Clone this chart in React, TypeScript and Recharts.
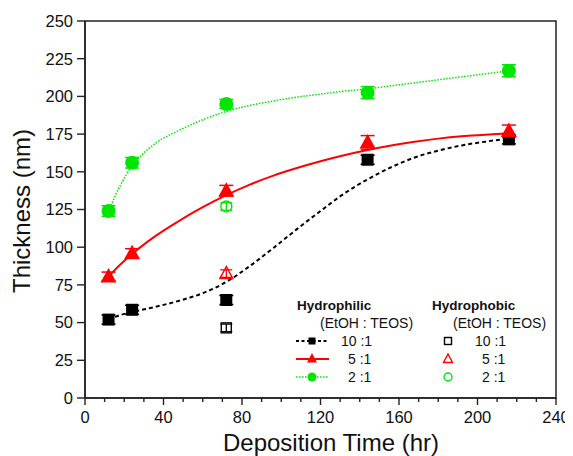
import React from "react";
import {
  ComposedChart,
  Line,
  Scatter,
  XAxis,
  YAxis,
  ErrorBar,
  ReferenceArea,
} from "recharts";

// ---- data ----
const times = [12, 24, 72, 144, 216];
const philicBlack = [52, 58.5, 65, 158, 171.5];
const philicBlackErr = [3, 3, 3, 3, 3];
const philicRed = [80.5, 96, 137.5, 169.5, 177];
const philicRedErr = [3, 3, 3.5, 4.5, 4];
const philicGreen = [124, 156, 195, 202.5, 217];
const philicGreenErr = [3.5, 3.5, 3, 4, 4];

const phobicTime = [72];
const phobicBlack = [46.5];
const phobicRed = [82.5];
const phobicGreen = [127];
const phobicErr = [2.5];

const fitTimesBlack = [12, 18, 24, 36, 48, 60, 72, 84, 96, 108, 120, 132, 144, 156, 168, 180, 192, 204, 216];
const fitBlack = [52, 55, 57, 60.5, 64.5, 69.5, 77, 87.5, 99.5, 112, 124, 135.5, 145, 153, 159.5, 164, 167.5, 170, 172];
const fitTimesRed = [12, 18, 24, 36, 48, 60, 72, 84, 96, 108, 120, 132, 144, 156, 168, 180, 192, 204, 216];
const fitRed = [80.5, 88.5, 95.5, 107.5, 117.5, 126.5, 134.5, 141.5, 147.5, 152.5, 157, 161, 164.5, 167.5, 170, 172, 173.5, 174.5, 175.5];
const fitTimesGreen = [12, 18, 24, 30, 36, 48, 60, 72, 84, 96, 108, 120, 132, 144, 156, 168, 180, 192, 204, 216];
const fitGreen = [124, 141, 154, 162.5, 169, 177.5, 184.5, 190, 194, 197, 199.5, 201.5, 203.5, 205, 207, 209, 211, 213, 215, 217];

const xTicks = [0, 10, 20, 30, 40, 50, 60, 70, 80, 90, 100, 110, 120, 130, 140, 150, 160, 170, 180, 190, 200, 210, 220, 230, 240];
const yTicks = [0, 25, 50, 75, 100, 125, 150, 175, 200, 225, 250];

// ---- build ----
const pts = (xs: number[], ys: number[], es?: number[]) =>
  xs.map((x, i) => ({ x, y: ys[i], e: es ? es[i] : 0 }));

const blackPts = pts(times, philicBlack, philicBlackErr);
const redPts = pts(times, philicRed, philicRedErr);
const greenPts = pts(times, philicGreen, philicGreenErr);
const oBlackPts = pts(phobicTime, phobicBlack, phobicErr);
const oRedPts = pts(phobicTime, phobicRed, phobicErr);
const oGreenPts = pts(phobicTime, phobicGreen, phobicErr);
const blackFit = pts(fitTimesBlack, fitBlack);
const redFit = pts(fitTimesRed, fitRed);
const greenFit = pts(fitTimesGreen, fitGreen);

const FONT = "'Liberation Sans', Arial, Helvetica, sans-serif";
const RED = "#ff0000";
const GREEN = "#00e600";
const BLACK = "#000000";
const AX = "#222";

const W = 565;
const H = 448;

const FilledSquare = (p: any) => (
  <rect x={p.cx - 6} y={p.cy - 6} width={12} height={12} fill={BLACK} />
);
const FilledTri = (p: any) => (
  <polygon
    points={`${p.cx},${p.cy - 8.5} ${p.cx - 8},${p.cy + 6} ${p.cx + 8},${p.cy + 6}`}
    fill={RED}
  />
);
const FilledCircle = (p: any) => <circle cx={p.cx} cy={p.cy} r={7} fill={GREEN} />;
const OpenSquare = (p: any) => (
  <rect x={p.cx - 5} y={p.cy - 5} width={10} height={10} fill="none" stroke={BLACK} strokeWidth={1.4} />
);
const OpenTri = (p: any) => (
  <polygon
    points={`${p.cx},${p.cy - 7} ${p.cx - 6.5},${p.cy + 5} ${p.cx + 6.5},${p.cy + 5}`}
    fill="none"
    stroke={RED}
    strokeWidth={1.4}
  />
);
const OpenCircle = (p: any) => (
  <circle cx={p.cx} cy={p.cy} r={5.5} fill="none" stroke={GREEN} strokeWidth={1.4} />
);

const XTick = (props: any) => {
  const { x, y, payload } = props;
  const v = payload.value as number;
  const major = v % 40 === 0;
  return (
    <g>
      <line x1={x} x2={x} y1={y} y2={y + (major ? 7 : 4)} stroke={AX} strokeWidth={1.4} />
      {major && (
        <text x={x} y={y + 25} textAnchor="middle" fontSize={16.5} fontFamily={FONT} fill="#111">
          {v}
        </text>
      )}
    </g>
  );
};

const Overlay = () => {
  const rowY = [333, 351, 369];
  const txt = { fontFamily: FONT, fill: "#111" } as const;
  return (
    <svg
      width={W}
      height={H}
      style={{ position: "absolute", left: 0, top: 0, pointerEvents: "none" }}
    >
      {/* axis titles */}
      <text x={323} y={443} textAnchor="middle" fontSize={24} {...txt}>
        Deposition Time (hr)
      </text>
      <text
        x={14}
        y={203}
        textAnchor="middle"
        dy="0.35em"
        fontSize={24}
        transform="rotate(-90 14 203)"
        {...txt}
      >
        Thickness (nm)
      </text>

      {/* legend: hydrophilic */}
      <text x={289} y={302} fontSize={13.5} fontWeight="bold" {...txt}>
        Hydrophilic
      </text>
      <text x={312} y={320} fontSize={14} {...txt}>
        (EtOH : TEOS)
      </text>
      <line x1={288} x2={321} y1={rowY[0]} y2={rowY[0]} stroke={BLACK} strokeWidth={2} strokeDasharray="3 2.5" />
      <rect x={300.5} y={rowY[0] - 3.5} width={7} height={7} fill={BLACK} />
      <line x1={288} x2={321} y1={rowY[1]} y2={rowY[1]} stroke={RED} strokeWidth={2} />
      <polygon
        points={`304,${rowY[1] - 6} ${299},${rowY[1] + 3.5} ${309},${rowY[1] + 3.5}`}
        fill={RED}
      />
      <line x1={288} x2={321} y1={rowY[2]} y2={rowY[2]} stroke={GREEN} strokeWidth={1.5} strokeDasharray="1.5 1.5" />
      <circle cx={304} cy={rowY[2]} r={4.5} fill={GREEN} />
      <text x={333} y={rowY[0] + 5} fontSize={14} {...txt}>10 :1</text>
      <text x={340} y={rowY[1] + 5} fontSize={14} {...txt}>5 :1</text>
      <text x={340} y={rowY[2] + 5} fontSize={14} {...txt}>2 :1</text>

      {/* legend: hydrophobic */}
      <text x={424} y={302} fontSize={13.5} fontWeight="bold" {...txt}>
        Hydrophobic
      </text>
      <text x={445} y={320} fontSize={14} {...txt}>
        (EtOH : TEOS)
      </text>
      <rect x={436.5} y={rowY[0] - 3.5} width={7} height={7} fill="none" stroke={BLACK} strokeWidth={1.4} />
      <polygon
        points={`440,${rowY[1] - 5} ${435.5},${rowY[1] + 3.5} ${444.5},${rowY[1] + 3.5}`}
        fill="none"
        stroke={RED}
        strokeWidth={1.4}
      />
      <circle cx={440} cy={rowY[2]} r={4} fill="none" stroke={GREEN} strokeWidth={1.4} />
      <text x={467} y={rowY[0] + 5} fontSize={14} {...txt}>10 :1</text>
      <text x={474} y={rowY[1] + 5} fontSize={14} {...txt}>5 :1</text>
      <text x={474} y={rowY[2] + 5} fontSize={14} {...txt}>2 :1</text>
    </svg>
  );
};

export default function App() {
  return (
    <div style={{ position: "relative", width: W, height: H, background: "#fff" }}>
      <ComposedChart
        width={W}
        height={H}
        margin={{ top: 13, right: 17, bottom: 0, left: 0 }}
        style={{ fontFamily: FONT }}
      >
        <XAxis
          type="number"
          dataKey="x"
          domain={[0, 240]}
          ticks={xTicks}
          interval={0}
          height={58}
          tickSize={0}
          tickMargin={0}
          tickLine={false}
          tick={<XTick />}
          axisLine={{ stroke: AX, strokeWidth: 1.5 }}
          allowDataOverflow
        />
        <YAxis
          type="number"
          domain={[0, 250]}
          ticks={yTicks}
          interval={0}
          width={77}
          tickSize={8}
          tickMargin={4}
          tickLine={{ stroke: AX, strokeWidth: 1.4 }}
          axisLine={{ stroke: AX, strokeWidth: 1.5 }}
          tick={{ fontSize: 16.5, fill: "#111", fontFamily: FONT }}
          allowDataOverflow
        />
        <ReferenceArea
          x1={0}
          x2={240}
          y1={0}
          y2={250}
          fill="none"
          fillOpacity={0}
          stroke={AX}
          strokeWidth={1.5}
        />

        <Line
          data={blackFit}
          dataKey="y"
          type="monotone"
          stroke={BLACK}
          strokeWidth={2}
          strokeDasharray="4 3"
          dot={false}
          activeDot={false}
          isAnimationActive={false}
        />
        <Line
          data={redFit}
          dataKey="y"
          type="monotone"
          stroke={RED}
          strokeWidth={2}
          dot={false}
          activeDot={false}
          isAnimationActive={false}
        />
        <Line
          data={greenFit}
          dataKey="y"
          type="monotone"
          stroke={GREEN}
          strokeWidth={1.5}
          strokeDasharray="1.5 1.5"
          dot={false}
          activeDot={false}
          isAnimationActive={false}
        />

        <Scatter data={blackPts} dataKey="y" shape={FilledSquare} isAnimationActive={false}>
          <ErrorBar dataKey="e" direction="y" width={7} stroke={BLACK} strokeWidth={1.5} />
        </Scatter>
        <Scatter data={redPts} dataKey="y" shape={FilledTri} isAnimationActive={false}>
          <ErrorBar dataKey="e" direction="y" width={7} stroke={RED} strokeWidth={1.5} />
        </Scatter>
        <Scatter data={greenPts} dataKey="y" shape={FilledCircle} isAnimationActive={false}>
          <ErrorBar dataKey="e" direction="y" width={7} stroke={GREEN} strokeWidth={1.5} />
        </Scatter>
        <Scatter data={oBlackPts} dataKey="y" shape={OpenSquare} isAnimationActive={false}>
          <ErrorBar dataKey="e" direction="y" width={6} stroke={BLACK} strokeWidth={1.3} />
        </Scatter>
        <Scatter data={oRedPts} dataKey="y" shape={OpenTri} isAnimationActive={false}>
          <ErrorBar dataKey="e" direction="y" width={6} stroke={RED} strokeWidth={1.3} />
        </Scatter>
        <Scatter data={oGreenPts} dataKey="y" shape={OpenCircle} isAnimationActive={false}>
          <ErrorBar dataKey="e" direction="y" width={6} stroke={GREEN} strokeWidth={1.3} />
        </Scatter>
      </ComposedChart>
      <Overlay />
    </div>
  );
}
